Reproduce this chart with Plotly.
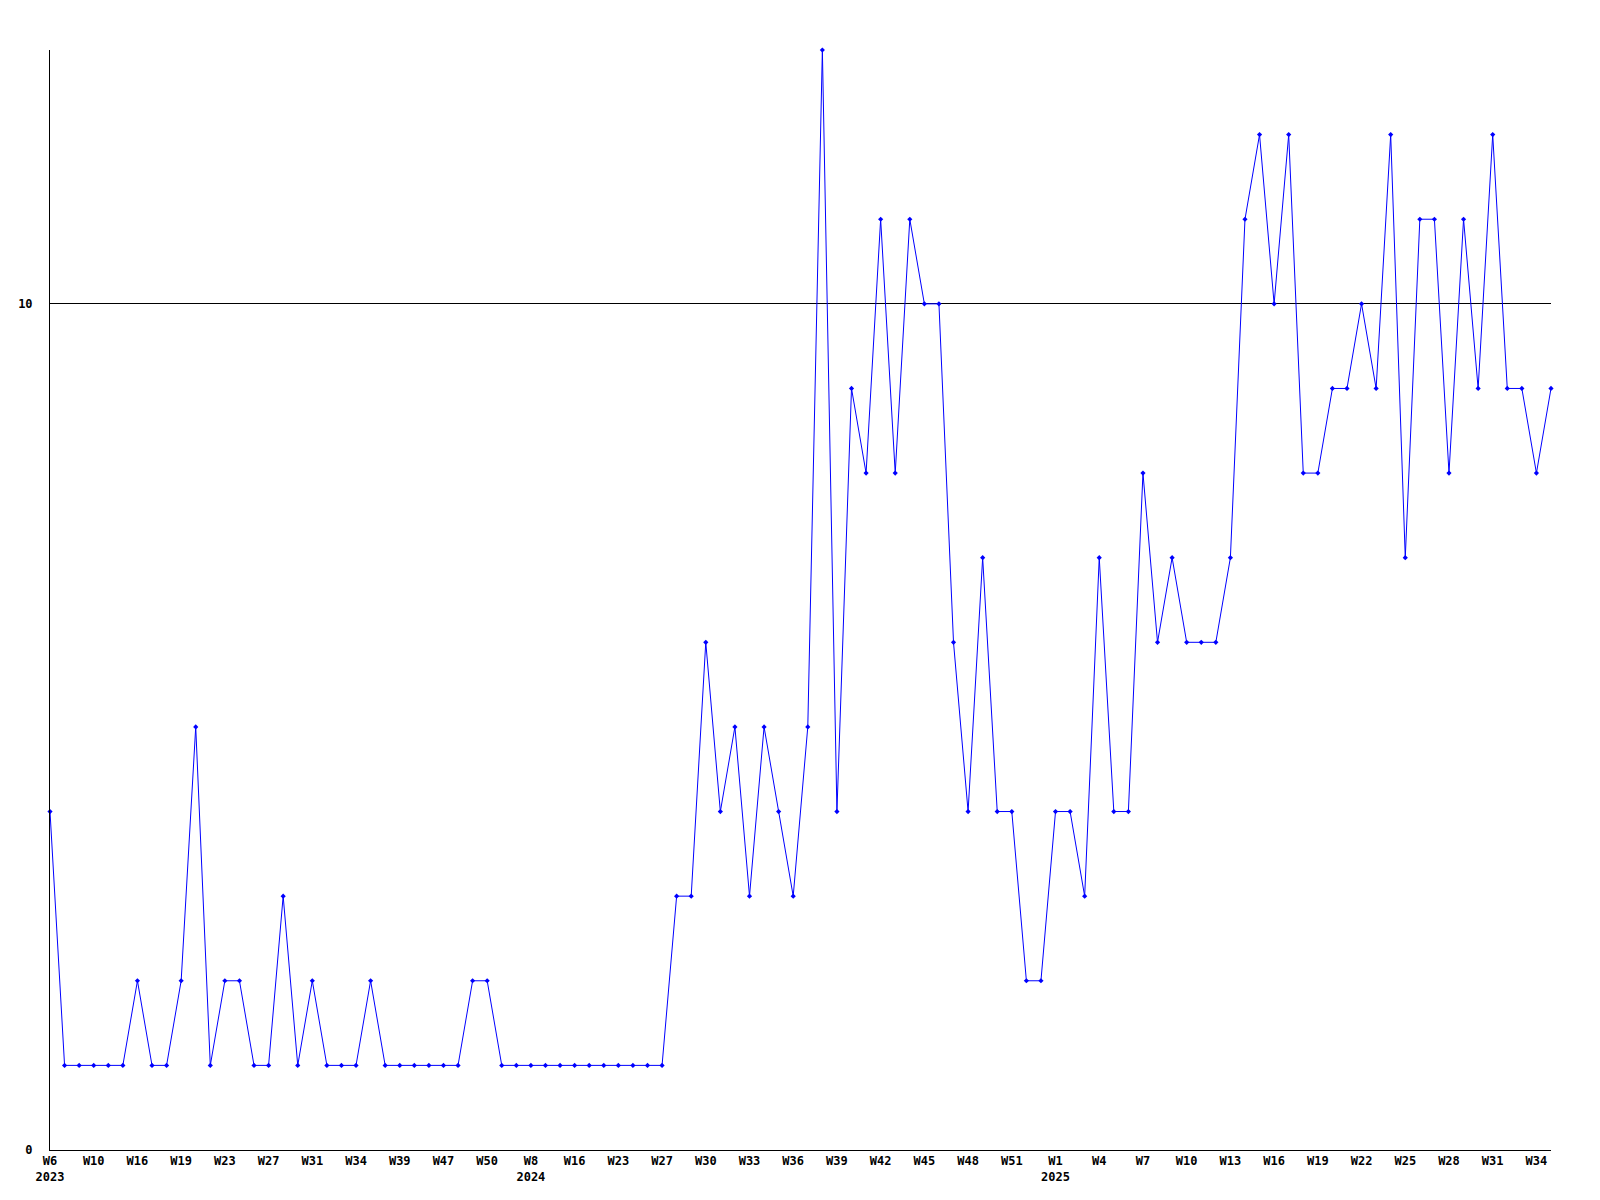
import plotly.graph_objects as go

values = [4, 1, 1, 1, 1, 1, 2, 1, 1, 2,
          5, 1, 2, 2, 1, 1, 3, 1, 2, 1,
          1, 1, 2, 1, 1, 1, 1, 1, 1, 2,
          2, 1, 1, 1, 1, 1, 1, 1, 1, 1,
          1, 1, 1, 3, 3, 6, 4, 5, 3, 5,
          4, 3, 5, 13, 4, 9, 8, 11, 8, 11,
          10, 10, 6, 4, 7, 4, 4, 2, 2, 4,
          4, 3, 7, 4, 4, 8, 6, 7, 6, 6,
          6, 7, 11, 12, 10, 12, 8, 8, 9, 9,
          10, 9, 12, 7, 11, 11, 8, 11, 9, 12,
          9, 9, 8, 9]

tick_labels = ["W6<br>2023", "W10", "W16", "W19", "W23", "W27", "W31", "W34", "W39", "W47", "W50",
               "W8<br>2024", "W16", "W23", "W27", "W30", "W33", "W36", "W39", "W42", "W45", "W48", "W51",
               "W1<br>2025", "W4", "W7", "W10", "W13", "W16", "W19", "W22", "W25", "W28", "W31", "W34"]
tick_step = 3

y_ticks = [0, 10]

x = list(range(len(values)))
tickvals = [i * tick_step for i in range(len(tick_labels))]

font = dict(family="DejaVu Sans Mono", size=12, color="black", weight="bold")

fig = go.Figure()
fig.add_trace(go.Scatter(
    x=x, y=values, mode="lines+markers",
    line=dict(color="#0000FF", width=1),
    marker=dict(symbol="diamond", size=4, color="#0000FF"),
    cliponaxis=False, showlegend=False, hoverinfo="y",
))

fig.update_layout(
    width=1592, height=1192,
    margin=dict(l=42, r=49, t=42, b=50),
    paper_bgcolor="white", plot_bgcolor="white",
    font=font,
    xaxis=dict(range=[0, len(values) - 1], tickmode="array", tickvals=tickvals, ticktext=tick_labels,
               showgrid=False, zeroline=False, showline=True, linecolor="black", linewidth=1,
               ticks="", tickfont=font, automargin=False, fixedrange=True),
    yaxis=dict(range=[0, 13], tickmode="array", tickvals=y_ticks, ticktext=[str(v) for v in y_ticks],
               showgrid=True, gridcolor="black", gridwidth=1, zeroline=False,
               showline=True, linecolor="black", linewidth=1, ticks="", tickfont=font,
               ticklabelstandoff=14, automargin=False, fixedrange=True),
)

fig.write_html("out.html")
